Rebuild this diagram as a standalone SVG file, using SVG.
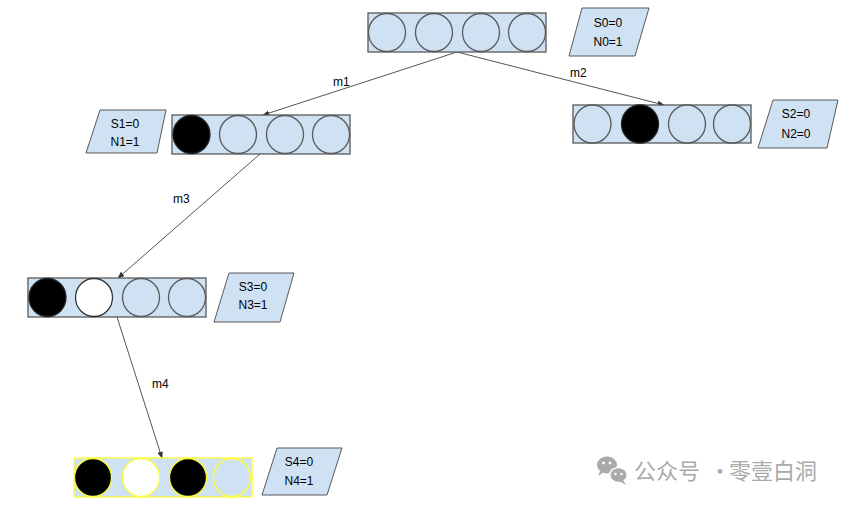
<svg xmlns="http://www.w3.org/2000/svg" width="849" height="505" viewBox="0 0 849 505">
<defs>
<style>
.box{fill:#cfe2f3;stroke:#595959;stroke-width:1.3}
.boxy{fill:#cfe2f3;stroke:#ffff33;stroke-width:1.3}
.c{fill:#cfe2f3;stroke:#595959;stroke-width:1.3}
.cb{fill:#000;stroke:#222;stroke-width:1.3}
.cw{fill:#fff;stroke:#333;stroke-width:1.3}
.cy{fill:#cfe2f3;stroke:#ffff33;stroke-width:1.3}
.cby{fill:#000;stroke:#ffff33;stroke-width:1.3}
.cwy{fill:#fff;stroke:#ffff33;stroke-width:1.3}
.par{fill:#cfe2f3;stroke:#595959;stroke-width:1}
.t{font-family:"Liberation Sans",Arial,sans-serif;font-size:12px;fill:#000;text-anchor:middle}
.lbl{font-family:"Liberation Sans",Arial,sans-serif;font-size:12px;fill:#000}
.ln{stroke:#555;stroke-width:1;fill:none;marker-end:url(#ah)}
.wm{font-family:"Noto Sans CJK SC","Noto Sans",sans-serif;font-size:22px;fill:#aaaaaa}
</style>
<marker id="ah" viewBox="0 0 10 10" refX="9" refY="5" markerWidth="7" markerHeight="7" orient="auto" markerUnits="userSpaceOnUse">
<path d="M0,1 L10,5 L0,9 Z" fill="#333"/>
</marker>
</defs>
<rect width="849" height="505" fill="#fff"/>

<g id="connectors">
<line class="ln" x1="457" y1="52" x2="263" y2="115"/>
<line class="ln" x1="457" y1="52" x2="664" y2="105"/>
<line class="ln" x1="260" y1="154" x2="118" y2="278"/>
<line class="ln" x1="117" y1="317" x2="162" y2="458"/>
<text class="lbl" x="333" y="86">m1</text>
<text class="lbl" x="570" y="77">m2</text>
<text class="lbl" x="173" y="203">m3</text>
<text class="lbl" x="152" y="388">m4</text>
</g>

<g id="node0">
<rect class="box" x="368" y="13" width="178" height="39"/>
<ellipse class="c" cx="387" cy="32.5" rx="18.5" ry="19"/>
<ellipse class="c" cx="434" cy="32.5" rx="18.5" ry="19"/>
<ellipse class="c" cx="481" cy="32.5" rx="18.5" ry="19"/>
<ellipse class="c" cx="527" cy="32.5" rx="18.5" ry="19"/>
</g>
<g id="state0">
<polygon class="par" points="582,8 649,8 635,56 569,56"/>
<text class="t" x="608" y="27">S0=0</text>
<text class="t" x="608" y="46">N0=1</text>
</g>

<g id="node1">
<rect class="box" x="172" y="115" width="178" height="39"/>
<ellipse class="cb" cx="191.5" cy="134.5" rx="18.5" ry="19"/>
<ellipse class="c" cx="238" cy="134.5" rx="18.5" ry="19"/>
<ellipse class="c" cx="285" cy="134.5" rx="18.5" ry="19"/>
<ellipse class="c" cx="331" cy="134.5" rx="18.5" ry="19"/>
</g>
<g id="state1">
<polygon class="par" points="100,110 166,110 157,153 86,153"/>
<text class="t" x="125" y="128">S1=0</text>
<text class="t" x="125" y="146">N1=1</text>
</g>

<g id="node2">
<rect class="box" x="573" y="105" width="178" height="38"/>
<ellipse class="c" cx="592.5" cy="124" rx="18.5" ry="19"/>
<ellipse class="cb" cx="640" cy="124" rx="18.5" ry="19"/>
<ellipse class="c" cx="687" cy="124" rx="18.5" ry="19"/>
<ellipse class="c" cx="732" cy="124" rx="18.5" ry="19"/>
</g>
<g id="state2">
<polygon class="par" points="773,100 838,100 827,148 758,148"/>
<text class="t" x="796" y="118">S2=0</text>
<text class="t" x="796" y="138">N2=0</text>
</g>

<g id="node3">
<rect class="box" x="28" y="278" width="178" height="39"/>
<ellipse class="cb" cx="47.5" cy="297.5" rx="18.5" ry="19"/>
<ellipse class="cw" cx="94" cy="297.5" rx="18.5" ry="19"/>
<ellipse class="c" cx="141" cy="297.5" rx="18.5" ry="19"/>
<ellipse class="c" cx="187" cy="297.5" rx="18.5" ry="19"/>
</g>
<g id="state3">
<polygon class="par" points="229,273 294,273 280,322 214,322"/>
<text class="t" x="253" y="291">S3=0</text>
<text class="t" x="253" y="309">N3=1</text>
</g>

<g id="node4">
<rect class="boxy" x="74" y="458" width="178" height="39"/>
<ellipse class="cby" cx="93" cy="477.5" rx="18.5" ry="19"/>
<ellipse class="cwy" cx="141" cy="477.5" rx="18.5" ry="19"/>
<ellipse class="cby" cx="188" cy="477.5" rx="18.5" ry="19"/>
<ellipse class="cy" cx="232" cy="477.5" rx="18.5" ry="19"/>
</g>
<g id="state4">
<polygon class="par" points="277,448 342,448 327,495 262,495"/>
<text class="t" x="299" y="466">S4=0</text>
<text class="t" x="299" y="485">N4=1</text>
</g>

<g id="watermark">
<ellipse cx="607" cy="465" rx="10" ry="8.5" fill="#aaaaaa"/>
<path d="M600,471 L598,476 L604,472 Z" fill="#aaaaaa"/>
<ellipse cx="618.5" cy="475" rx="9.5" ry="8" fill="#fff"/>
<ellipse cx="618.5" cy="475" rx="8" ry="6.8" fill="#aaaaaa"/>
<path d="M623,480 L626,485 L619,481 Z" fill="#aaaaaa"/>
<circle cx="603.5" cy="463" r="1.4" fill="#fff"/>
<circle cx="610" cy="463" r="1.4" fill="#fff"/>
<circle cx="615.5" cy="474" r="1.2" fill="#fff"/>
<circle cx="621.5" cy="474" r="1.2" fill="#fff"/>
<text class="wm" x="634" y="479">公众号<tspan x="709">·</tspan><tspan x="729">零壹白洞</tspan></text>
</g>
</svg>
